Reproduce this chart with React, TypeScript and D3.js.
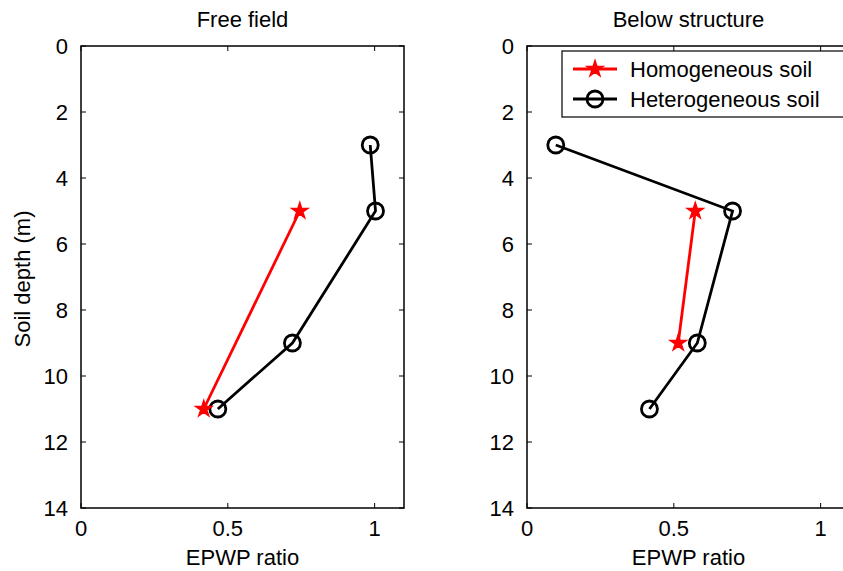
import React from "react";
import * as d3 from "d3";

const depthsHomFree = [5, 11];
const valsHomFree = [0.745, 0.418];
const depthsHetFree = [3, 5, 9, 11];
const valsHetFree = [0.985, 1.003, 0.72, 0.466];

const depthsHomBelow = [5, 9];
const valsHomBelow = [0.573, 0.515];
const depthsHetBelow = [3, 5, 9, 11];
const valsHetBelow = [0.098, 0.70, 0.58, 0.417];

const panelTitles = ["Free field", "Below structure"];
const xTicks = [0, 0.5, 1];
const yTicks = [0, 2, 4, 6, 8, 10, 12, 14];
const legendLabels = ["Homogeneous soil", "Heterogeneous soil"];

const W = 843;
const H = 571;
const FONT = "'Liberation Sans', Arial, Helvetica, sans-serif";
const FS = 22;
const RED = "#ff0000";

type Pt = { x: number; d: number };
const zip = (xs: number[], ds: number[]): Pt[] => xs.map((x, i) => ({ x, d: ds[i] }));

const panels = [
  { title: panelTitles[0], left: 81, hom: zip(valsHomFree, depthsHomFree), het: zip(valsHetFree, depthsHetFree), legend: false },
  { title: panelTitles[1], left: 527, hom: zip(valsHomBelow, depthsHomBelow), het: zip(valsHetBelow, depthsHetBelow), legend: true },
];

const TOP = 46;
const BOTTOM = 508;
const PW = 323;

const starPath = d3.symbol(d3.symbolStar, 80)() as string;

function Panel({ p, showYLabel }: { p: typeof panels[0]; showYLabel: boolean }) {
  const x = d3.scaleLinear().domain([0, 1.1]).range([p.left, p.left + PW]);
  const y = d3.scaleLinear().domain([0, 14]).range([TOP, BOTTOM]);
  const line = d3.line<Pt>().x((q) => x(q.x)).y((q) => y(q.d));
  const cx = p.left + PW / 2;
  const right = p.left + PW;
  const tl = 5;
  return (
    <g>
      <text x={cx} y={27} textAnchor="middle" fontSize={FS} fontFamily={FONT} fill="#000">
        {p.title}
      </text>
      {xTicks.map((t) => (
        <g key={"x" + t}>
          <line x1={x(t)} x2={x(t)} y1={BOTTOM} y2={BOTTOM - tl} stroke="#000" strokeWidth={1} />
          <line x1={x(t)} x2={x(t)} y1={TOP} y2={TOP + tl} stroke="#000" strokeWidth={1} />
          <text x={x(t)} y={536} textAnchor="middle" fontSize={FS} fontFamily={FONT} fill="#000">
            {String(t)}
          </text>
        </g>
      ))}
      {yTicks.map((t) => (
        <g key={"y" + t}>
          <line x1={p.left} x2={p.left + tl} y1={y(t)} y2={y(t)} stroke="#000" strokeWidth={1} />
          <line x1={right} x2={right - tl} y1={y(t)} y2={y(t)} stroke="#000" strokeWidth={1} />
          <text x={p.left - 13} y={y(t)} dy="0.36em" textAnchor="end" fontSize={FS} fontFamily={FONT} fill="#000">
            {String(t)}
          </text>
        </g>
      ))}
      <rect x={p.left} y={TOP} width={PW} height={BOTTOM - TOP} fill="none" stroke="#000" strokeWidth={1.5} />
      <text x={cx} y={565} textAnchor="middle" fontSize={FS} fontFamily={FONT} fill="#000">
        EPWP ratio
      </text>
      {showYLabel && (
        <text
          transform={`translate(30,${(TOP + BOTTOM) / 2 + 2}) rotate(-90)`}
          textAnchor="middle"
          fontSize={FS}
          fontFamily={FONT}
          fill="#000"
        >
          Soil depth (m)
        </text>
      )}
      <path d={line(p.het) as string} fill="none" stroke="#000" strokeWidth={2.8} />
      {p.het.map((q, i) => (
        <circle key={"c" + i} cx={x(q.x)} cy={y(q.d)} r={8} fill="none" stroke="#000" strokeWidth={2.8} />
      ))}
      <path d={line(p.hom) as string} fill="none" stroke={RED} strokeWidth={2.8} />
      {p.hom.map((q, i) => (
        <path key={"s" + i} d={starPath} transform={`translate(${x(q.x)},${y(q.d)})`} fill={RED} stroke={RED} strokeWidth={1.5} />
      ))}
      {p.legend && (
        <g>
          <rect x={562} y={51} width={300} height={66} fill="#fff" stroke="#000" strokeWidth={1.2} />
          {legendLabels.map((lab, i) => {
            const ly = 69 + i * 30;
            return (
              <g key={lab}>
                <line x1={573} x2={617} y1={ly} y2={ly} stroke={i === 0 ? RED : "#000"} strokeWidth={2.8} />
                {i === 0 ? (
                  <path d={starPath} transform={`translate(595,${ly})`} fill={RED} stroke={RED} strokeWidth={1.5} />
                ) : (
                  <circle cx={595} cy={ly} r={8} fill="none" stroke="#000" strokeWidth={2.8} />
                )}
                <text x={630} y={ly} dy="0.36em" fontSize={FS} fontFamily={FONT} fill="#000">
                  {lab}
                </text>
              </g>
            );
          })}
        </g>
      )}
    </g>
  );
}

export default function App() {
  return (
    <svg
      width={W}
      height={H}
      viewBox={`0 0 ${W} ${H}`}
      style={{ position: "absolute", left: 0, top: 0, background: "#fff" }}
    >
      <rect x={0} y={0} width={W} height={H} fill="#fff" />
      {panels.map((p, i) => (
        <Panel key={i} p={p} showYLabel={i === 0} />
      ))}
    </svg>
  );
}
